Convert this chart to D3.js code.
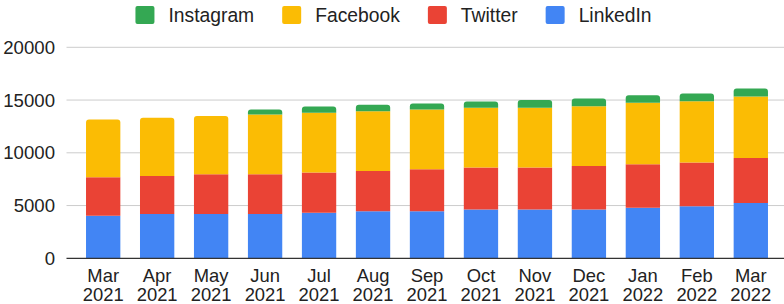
<!DOCTYPE html>
<html>
<head>
<meta charset="utf-8">
<script src="https://cdn.jsdelivr.net/npm/d3@7"></script>
<style>
  body { margin: 0; background: #fff; }
  svg { display: block; font-family: 'Liberation Sans', Arial, Helvetica, sans-serif; }
</style>
</head>
<body>
<svg id="chart" width="784" height="304"></svg>
<script>
var months = ['Mar 2021', 'Apr 2021', 'May 2021', 'Jun 2021', 'Jul 2021', 'Aug 2021', 'Sep 2021',
  'Oct 2021', 'Nov 2021', 'Dec 2021', 'Jan 2022', 'Feb 2022', 'Mar 2022'];
var linkedin = [4030, 4190, 4190, 4190, 4310, 4470, 4470, 4630, 4630, 4630, 4780, 4940, 5230];
var twitter = [3650, 3610, 3780, 3780, 3820, 3810, 3970, 3970, 3970, 4120, 4130, 4130, 4280];
var facebook = [5480, 5520, 5510, 5670, 5670, 5670, 5670, 5670, 5670, 5670, 5830, 5820, 5830];
var instagram = [0, 0, 0, 470, 590, 600, 570, 600, 730, 730, 720, 730, 750];
var yTicks = [0, 5000, 10000, 15000, 20000];

// stacking order bottom -> top
var keys = ['LinkedIn', 'Twitter', 'Facebook', 'Instagram'];
var legendKeys = ['Instagram', 'Facebook', 'Twitter', 'LinkedIn'];
var colors = {
  LinkedIn: '#4285f4',
  Twitter: '#ea4335',
  Facebook: '#fbbc04',
  Instagram: '#34a853'
};

var rows = months.map(function (m, i) {
  return { month: m, LinkedIn: linkedin[i], Twitter: twitter[i], Facebook: facebook[i], Instagram: instagram[i] };
});

var svg = d3.select('#chart');

var xScale = d3.scaleBand()
  .domain(months)
  .range([76.2, 777.8])
  .paddingInner(0.364)
  .paddingOuter(0.182);
var yScale = d3.scaleLinear()
  .domain([0, 20000])
  .range([258.3, 47.3]);

// gridlines
svg.append('g')
  .selectAll('line')
  .data(yTicks.slice(1))
  .enter()
  .append('line')
  .attr('x1', 66.5)
  .attr('x2', 784)
  .attr('y1', function (d) { return yScale(d); })
  .attr('y2', function (d) { return yScale(d); })
  .attr('stroke', '#cccccc')
  .attr('stroke-width', 1);

// y labels
svg.append('g')
  .selectAll('text')
  .data(yTicks)
  .enter()
  .append('text')
  .attr('x', 55)
  .attr('y', function (d) { return yScale(d); })
  .attr('dy', '0.36em')
  .attr('text-anchor', 'end')
  .attr('font-size', '18.6px')
  .attr('fill', '#222')
  .text(function (d) { return d; });

var stacked = d3.stack().keys(keys)(rows);

// the top non-zero segment of each month gets rounded corners
var topKey = rows.map(function (r) {
  var k = keys[0];
  keys.forEach(function (key) { if (r[key] > 0) k = key; });
  return k;
});

function segPath(x, y0, y1, w, r) {
  var h = y0 - y1;
  if (r <= 0) return 'M' + x + ',' + y0 + 'V' + y1 + 'H' + (x + w) + 'V' + y0 + 'Z';
  r = Math.min(r, h);
  return 'M' + x + ',' + y0 +
    'V' + (y1 + r) +
    'Q' + x + ',' + y1 + ' ' + (x + r) + ',' + y1 +
    'H' + (x + w - r) +
    'Q' + (x + w) + ',' + y1 + ' ' + (x + w) + ',' + (y1 + r) +
    'V' + y0 + 'Z';
}

svg.append('g')
  .selectAll('g')
  .data(stacked)
  .enter()
  .append('g')
  .attr('fill', function (s) { return colors[s.key]; })
  .each(function (s) {
    d3.select(this)
      .selectAll('path')
      .data(s.filter(function (d) { return d[1] - d[0] > 0; }))
      .enter()
      .append('path')
      .attr('d', function (d) {
        var i = months.indexOf(d.data.month);
        var r = topKey[i] === s.key ? 3 : 0;
        return segPath(xScale(d.data.month), yScale(d[0]), yScale(d[1]), xScale.bandwidth(), r);
      });
  });

// baseline
svg.append('line')
  .attr('x1', 66.5)
  .attr('x2', 784)
  .attr('y1', yScale(0))
  .attr('y2', yScale(0))
  .attr('stroke', '#333')
  .attr('stroke-width', 1.3);

// x labels, two lines each
var xLabels = svg.append('g')
  .selectAll('text')
  .data(months)
  .enter()
  .append('text')
  .attr('text-anchor', 'middle')
  .attr('font-size', '18.4px')
  .attr('fill', '#222');
xLabels.append('tspan')
  .attr('x', function (d) { return xScale(d) + xScale.bandwidth() / 2; })
  .attr('y', 282)
  .text(function (d) { return d.split(' ')[0]; });
xLabels.append('tspan')
  .attr('x', function (d) { return xScale(d) + xScale.bandwidth() / 2; })
  .attr('y', 300.5)
  .text(function (d) { return d.split(' ')[1]; });

// legend
var legend = svg.append('g');
var items = legend.selectAll('g')
  .data(legendKeys)
  .enter()
  .append('g');
items.append('rect')
  .attr('width', 19)
  .attr('height', 18)
  .attr('y', 6)
  .attr('rx', 2)
  .attr('fill', function (d) { return colors[d]; });
items.append('text')
  .attr('x', 33)
  .attr('y', 22)
  .attr('font-size', '19.3px')
  .attr('fill', '#222')
  .text(function (d) { return d; });

var widths = [];
items.each(function () {
  var w = 33 + d3.select(this).select('text').node().getComputedTextLength();
  widths.push(w);
});
var total = d3.sum(widths) + 28 * (widths.length - 1);
var pos = 393.5 - total / 2;
items.attr('transform', function (d, i) {
  var x = pos;
  pos += widths[i] + 28;
  return 'translate(' + x + ',0)';
});
</script>
</body>
</html>
